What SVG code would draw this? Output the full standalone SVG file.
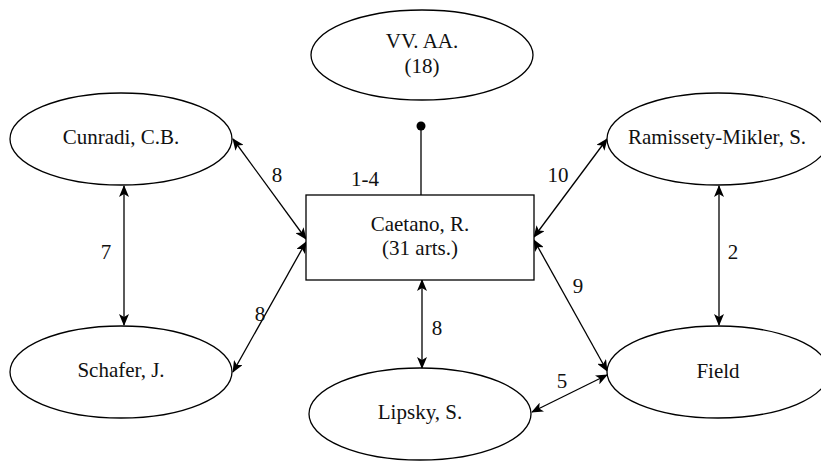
<svg xmlns="http://www.w3.org/2000/svg" width="821" height="461" viewBox="0 0 821 461">
<defs>
<marker id="ah" viewBox="0 0 12 10" refX="11" refY="5" markerWidth="12" markerHeight="10" markerUnits="userSpaceOnUse" orient="auto-start-reverse">
<path d="M0,0 L12,5 L0,10 L3,5 Z" fill="#000"/>
</marker>
</defs>
<style>
.n{fill:#fff;stroke:#000;stroke-width:1.3}
.t{font-family:"Liberation Serif","Times New Roman",serif;font-size:21px;fill:#111;text-anchor:middle}
.e{stroke:#000;stroke-width:1.3;fill:none;marker-start:url(#ah);marker-end:url(#ah)}
</style>
<rect width="821" height="461" fill="#fff"/>
<g id="connectors">
<line class="e" x1="233" y1="139" x2="306" y2="239"/>
<line class="e" x1="233" y1="372" x2="306" y2="242"/>
<line class="e" x1="124" y1="186" x2="124" y2="325"/>
<line class="e" x1="534" y1="237" x2="607" y2="139"/>
<line class="e" x1="534" y1="240" x2="607" y2="371"/>
<line class="e" x1="719" y1="186" x2="719" y2="325"/>
<line class="e" x1="422" y1="280" x2="422" y2="368"/>
<line class="e" x1="532" y1="412" x2="607" y2="375"/>
<line x1="421" y1="126" x2="421" y2="195" stroke="#000" stroke-width="1.3"/>
<circle cx="421" cy="126" r="4.5" fill="#000"/>
<text class="t" x="277" y="182">8</text>
<text class="t" x="260" y="321">8</text>
<text class="t" x="106" y="259">7</text>
<text class="t" x="558" y="182">10</text>
<text class="t" x="578" y="293">9</text>
<text class="t" x="733" y="259">2</text>
<text class="t" x="437" y="335">8</text>
<text class="t" x="562" y="388">5</text>
<text class="t" x="365" y="186">1-4</text>
</g>
<g id="vvaa">
<ellipse class="n" cx="422" cy="55" rx="111" ry="45"/>
<text class="t" x="422" y="48">VV. AA.</text>
<text class="t" x="422" y="73">(18)</text>
</g>
<g id="cunradi">
<ellipse class="n" cx="121" cy="139" rx="111" ry="46"/>
<text class="t" x="121" y="144">Cunradi, C.B.</text>
</g>
<g id="schafer">
<ellipse class="n" cx="121" cy="372" rx="111" ry="46"/>
<text class="t" x="121" y="377">Schafer, J.</text>
</g>
<g id="caetano">
<rect class="n" x="306" y="195" width="228" height="85"/>
<text class="t" x="420" y="231">Caetano, R.</text>
<text class="t" x="420" y="255">(31 arts.)</text>
</g>
<g id="lipsky">
<ellipse class="n" cx="420" cy="414" rx="111" ry="46"/>
<text class="t" x="420" y="419">Lipsky, S.</text>
</g>
<g id="ramissety">
<ellipse class="n" cx="718" cy="139" rx="111" ry="46"/>
<text class="t" x="717" y="144">Ramissety-Mikler, S.</text>
</g>
<g id="field">
<ellipse class="n" cx="718" cy="372" rx="111" ry="46"/>
<text class="t" x="718" y="378">Field</text>
</g>
</svg>
